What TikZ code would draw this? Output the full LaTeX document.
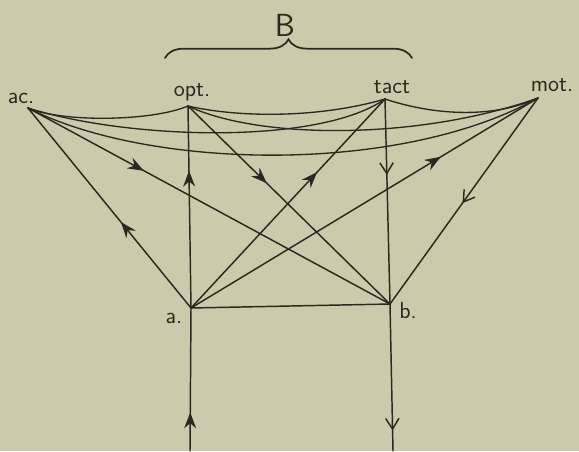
\documentclass[tikz,border=0pt]{standalone}
\usepackage{tikz}
\usetikzlibrary{arrows.meta,decorations.markings,decorations.pathreplacing}
\definecolor{schPaper}{RGB}{204,202,172}
\definecolor{schInk}{RGB}{44,40,32}
\tikzset{
  schline/.style={draw=schInk,line width=1.1pt,line cap=round},
  schcurve/.style={draw=schInk,line width=1.0pt,line cap=round},
  schlabel/.style={font=\sffamily\fontsize{17.5}{20}\selectfont,text=schInk,anchor=base,inner sep=0pt},
  schfwd/.style={postaction={decorate},decoration={markings,
    mark=at position #1 with {\arrow{Stealth[length=12pt,width=9pt,inset=4pt]}}}},
  schbarb/.style={postaction={decorate},decoration={markings,
    mark=at position #1 with {\arrow{Straight Barb[length=8pt,width=10pt,line width=1.1pt]}}}},
}

\begin{document}
\begin{tikzpicture}[x=0.75pt,y=-0.75pt]
  \fill[schPaper] (0,0) rectangle (579,451);
  \useasboundingbox (0,0) rectangle (579,451);

  \coordinate (ac)   at ( 28,108);
  \coordinate (opt)  at (188,106);
  \coordinate (tact) at (385, 99);
  \coordinate (mot)  at (538, 98);
  \coordinate (a)    at (191,308);
  \coordinate (b)    at (390,304);
  \coordinate (in)   at (190,451);
  \coordinate (out)  at (393,451);
  \coordinate (brL)  at (165, 58);
  \coordinate (brR)  at (412, 58);

  % Curved links joining every pair of the four upper centres.
  \draw[schcurve] (ac) .. controls (60,122) and (150,122) .. (opt);
  \draw[schcurve] (opt) .. controls (240,118) and (320,118) .. (tact);
  \draw[schcurve] (tact) .. controls (430,114) and (490,120) .. (mot);
  \draw[schcurve] (ac) .. controls (130,140) and (320,145) .. (tact);
  \draw[schcurve] (opt) .. controls (260,140) and (420,140) .. (mot);
  \draw[schcurve] (ac) .. controls (150,170) and (400,175) .. (mot);

  % Paths out of a.
  \draw[schline,schfwd=0.43] (a) -- (ac);
  \draw[schline,schfwd=0.68] (a) -- (opt);
  \draw[schline,schfwd=0.65] (a) -- (tact);
  \draw[schline,schfwd=0.72] (a) -- (mot);

  % Paths into b.
  \draw[schline,schfwd=0.32] (ac) -- (b);
  \draw[schline,schfwd=0.39] (opt) -- (b);
  \draw[schline,schbarb=0.37] (tact) -- (b);
  \draw[schline,schbarb=0.51] (mot) -- (b);
  \draw[schline] (a) -- (b);

  % Incoming and outgoing strands.
  \draw[schline,schfwd=0.27] (in) -- (a);
  \draw[schline,schbarb=0.86] (b) -- (out);

  % Brace over the two middle centres.
  \draw[schcurve,line width=1.3pt,decorate,decoration={brace,amplitude=14pt}] (brL) -- (brR);

  % Labels.
  \node[schlabel] (acl)   at ( 21,103) {ac.};
  \node[schlabel] (optl)  at (192, 96) {opt.};
  \node[schlabel] (tactl) at (392, 93) {tact};
  \node[schlabel] (motl)  at (552, 91) {mot.};
  \node[schlabel] (al)    at (174,323) {a.};
  \node[schlabel] (bl)    at (408,318) {b.};
  \node[schlabel,font=\sffamily\fontsize{24}{26}\selectfont] (Bl) at (285,36) {B};
\end{tikzpicture}
\end{document}
